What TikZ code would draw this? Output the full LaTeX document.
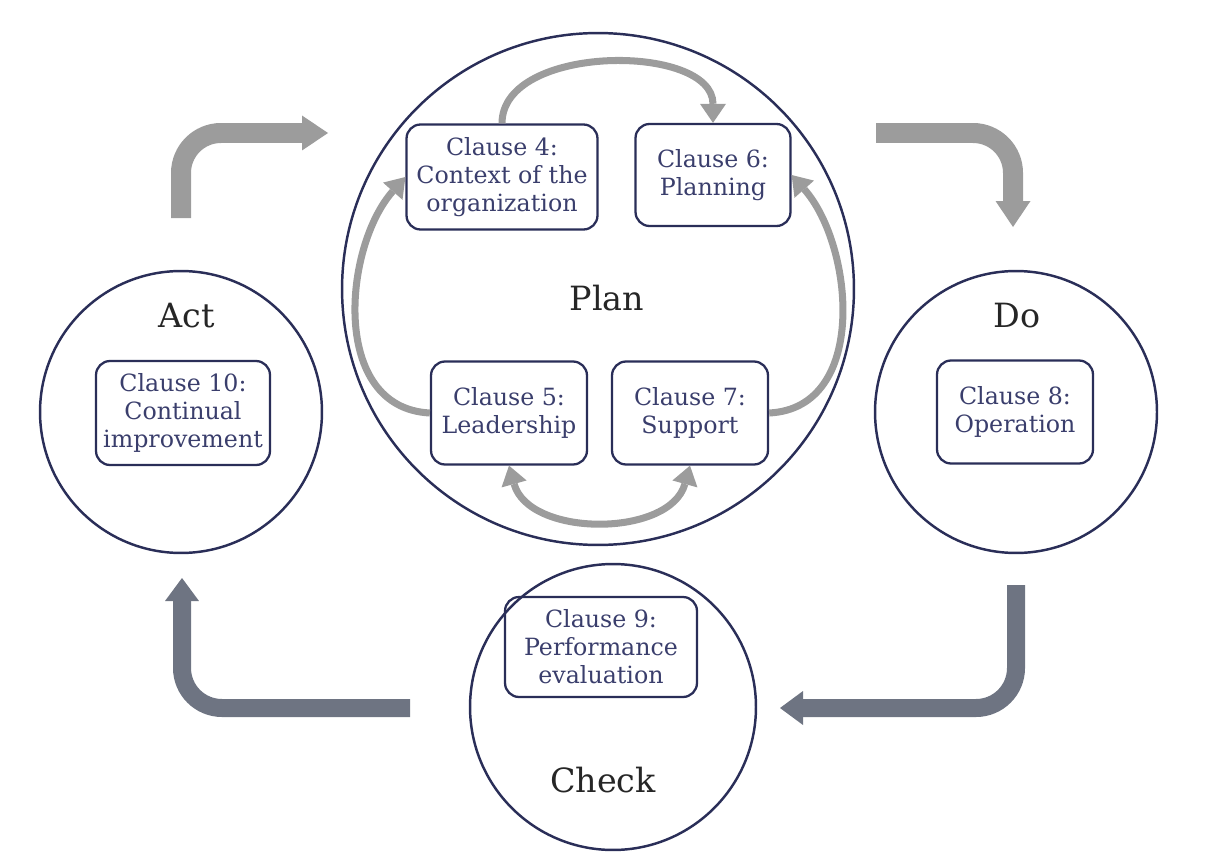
\documentclass[tikz,border=0pt]{standalone}
\usepackage{fontspec}
\setmainfont{DejaVu Serif}
\usepackage{tikz}
\usetikzlibrary{shapes,arrows.meta}
\usetikzlibrary{positioning}
\usepackage{xcolor}

\definecolor{navy}{HTML}{2A2E58}
\definecolor{clausetext}{HTML}{3A3E6C}
\definecolor{lightarrow}{HTML}{9C9C9C}
\definecolor{darkarrow}{HTML}{6E7482}

\begin{document}
\begin{tikzpicture}[x=0.02cm,y=0.02cm,
  phase/.style={circle,draw=navy,line width=1.4pt,inner sep=0pt},
  clause/.style={draw=navy,line width=1.3pt,rounded corners=8pt,align=center,
    text=clausetext,font=\fontsize{13.5}{15.9}\selectfont,minimum height=2.06cm,inner sep=2pt},
  phasename/.style={font=\fontsize{19}{22}\selectfont,text=black!85},
  inner/.style={lightarrow,line width=4pt,-{Triangle[length=0.38cm,width=0.52cm,line width=0pt]}},
  innerboth/.style={lightarrow,line width=4pt,{Triangle[length=0.38cm,width=0.52cm,line width=0pt]}-{Triangle[length=0.38cm,width=0.52cm,line width=0pt]}},
  outer/.style={line width=0.4cm,rounded corners=0.8cm,-{Triangle[length=0.52cm,width=0.7cm,line width=0pt]}}]

  \useasboundingbox (0,0) rectangle (1226,860);

  % phases
  \node[phase,minimum size=10.24cm] (plan) at (598,571) {};
  \node[phase,minimum size=5.64cm] (act) at (181,448) {};
  \node[phase,minimum size=5.64cm] (do) at (1016,448) {};
  \node[phase,minimum size=5.72cm] (check) at (613,153) {};

  \node[phasename] (planname) at (607,562) {Plan};
  \node[phasename] (actname) at (187,544) {Act};
  \node[phasename] (doname) at (1017,544) {Do};
  \node[phasename] (checkname) at (603,80) {Check};

  % clauses
  \node[clause,minimum width=3.82cm,minimum height=2.1cm] (c4) at (502,683) {Clause 4:\\Context of the\\organization};
  \node[clause,minimum width=3.1cm,minimum height=2.04cm] (c6) at (713,685) {Clause 6:\\Planning};
  \node[clause,minimum width=3.12cm] (c5) at (509,447) {Clause 5:\\Leadership};
  \node[clause,minimum width=3.12cm] (c7) at (690,447) {Clause 7:\\Support};
  \node[clause,minimum width=3.48cm,minimum height=2.08cm] (c10) at (183,447) {Clause 10:\\Continual\\improvement};
  \node[clause,minimum width=3.12cm] (c8) at (1015,448) {Clause 8:\\Operation};
  \node[clause,minimum width=3.84cm,minimum height=2cm] (c9) at (601,213) {Clause 9:\\Performance\\evaluation};

  % inside plan
  \draw[inner] (c4.north) .. controls +(0,80) and +(0,80) .. (c6.north);
  \draw[inner] (c5.west) .. controls +(-100,5) and +(-62,-70) .. (c4.west);
  \draw[inner] (c7.east) .. controls +(100,5) and +(62,-70) .. (c6.east);
  \draw[innerboth] (c5.south) .. controls +(20,-72) and +(-20,-72) .. (c7.south);

  % cycle
  \coordinate (actout) at (181,642);
  \coordinate (planin) at (328,727);
  \coordinate (planout) at (876,727);
  \coordinate (doin) at (1013,633);
  \coordinate (doout) at (1016,275);
  \coordinate (checkin) at (780,152);
  \coordinate (checkout) at (410,152);
  \coordinate (actin) at (182,282);

  \draw[outer,lightarrow] (actout) |- (planin);
  \draw[outer,lightarrow] (planout) -| (doin);
  \draw[outer,darkarrow,line width=0.36cm,-{Triangle[length=0.46cm,width=0.68cm,line width=0pt]}] (doout) |- (checkin);
  \draw[outer,darkarrow,line width=0.36cm,-{Triangle[length=0.46cm,width=0.68cm,line width=0pt]}] (checkout) -| (actin);

\end{tikzpicture}
\end{document}
